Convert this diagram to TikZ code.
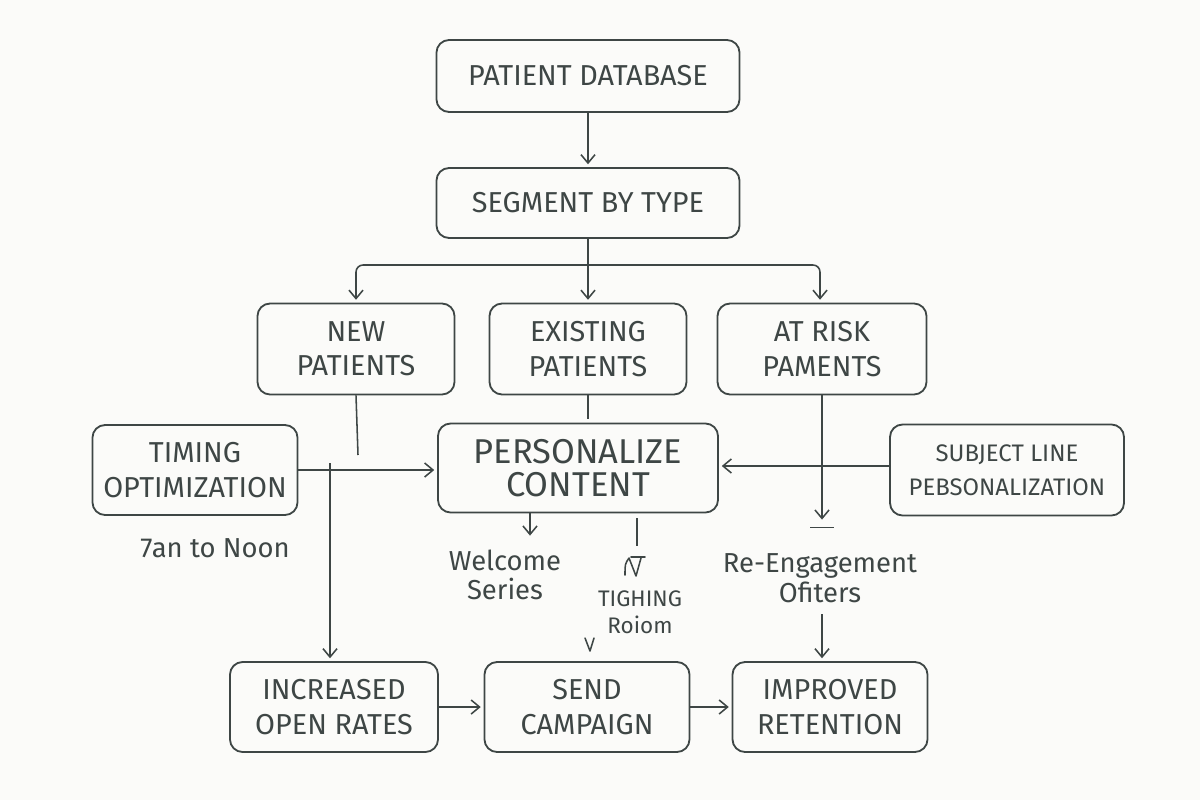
\documentclass[tikz,border=0pt]{standalone}
\usepackage{fontspec}
\setmainfont{Fira Sans}
\usetikzlibrary{arrows.meta,calc}
\definecolor{ink}{HTML}{3E4645}
\definecolor{paper}{HTML}{FBFBF9}
\tikzset{
  box/.style 2 args={draw=ink, line width=1.3pt, rounded corners=9pt, align=center,
    text=ink, font=\fontsize{20.5}{24.5}\selectfont, inner sep=0pt,
    minimum width={#1*0.7113pt}, minimum height={#2*0.7113pt}},
  lab/.style={text=ink, align=center, font=\fontsize{19.5}{21}\selectfont, inner sep=0pt},
  small/.style={text=ink, align=center, font=\fontsize{16}{19}\selectfont, inner sep=0pt},
  conn/.style={draw=ink, line width=1.1pt},
  arr/.style={conn, -{Straight Barb[length=6pt,width=10pt,line width=1.1pt]}, shorten >=2pt}
}
\begin{document}
\begin{tikzpicture}[x=0.025cm,y=-0.025cm]
\fill[paper] (0,0) rectangle (1200,800);
\useasboundingbox (0,0) rectangle (1200,800);
% boxes
\node[box={303}{72}] (pd) at (588,76) {PATIENT DATABASE};
\node[box={303}{70}] (sbt) at (588,203) {SEGMENT BY TYPE};
\node[box={197}{91}] (np) at (356,349) {NEW\\PATIENTS};
\node[box={197}{91}] (ep) at (588,349) {EXISTING\\PATIENTS};
\node[box={209}{91}] (ar) at (822,349) {AT RISK\\PAMENTS};
\node[box={205}{90}] (to) at (195,470) {TIMING\\OPTIMIZATION};
\node[box={280}{89}, font=\fontsize{24.5}{23.5}\selectfont] (pc) at (578,468) {PERSONALIZE\\CONTENT};
\node[box={234}{91}, font=\fontsize{17}{24}\selectfont] (sl) at (1007,470) {SUBJECT LINE\\PEBSONALIZATION};
\node[box={208}{90}] (ior) at (334,707) {INCREASED\\OPEN RATES};
\node[box={205}{90}] (sc) at (587,707) {SEND\\CAMPAIGN};
\node[box={195}{90}] (ir) at (830,707) {IMPROVED\\RETENTION};
% labels
\node[lab] (ws) at (505,575) {Welcome\\Series};
\node[small] (tr) at (640,612) {TIGHING\\Roiom};
\node[lab] (reo) at (820,578) {Re-Engagement\\Ofiters};
\node[lab] (tn) at (215,548) {7an to Noon};
% coordinates
\coordinate (br) at (588,265);
\coordinate (npend) at (358,455);
\coordinate (vtop) at (330,463);
\coordinate (reoa) at (822,614);
\coordinate (gl) at (634,566);
\coordinate (vv) at (590,645);
% connectors
\draw[arr] (pd) -- (sbt);
\draw[conn] (sbt.south) -- (br);
\draw[arr, rounded corners=5pt] (br) -| (np.north);
\draw[arr, rounded corners=5pt] (br) -| ($(ar.north)+(-2,0)$);
\draw[arr] (br) -- (ep.north);
\draw[conn] (np.south) -- (npend);
\draw[conn] (ep.south) -- ($(pc.north)+(10,-4)$);
\draw[arr] (to.east) -- (to.east -| pc.west);
\draw[arr] (vtop) -- (vtop |- ior.north);
\draw[arr] ($(sl.west)+(0,-4)$) -- ($(sl.west -| pc.east)+(0,-4)$);
\draw[arr] (ar.south) -- ($(ar.south)+(0,127)$);
\draw[conn] ($(ar.south)+(-12,132)$) -- ($(ar.south)+(12,132)$);
\draw[arr] ($(pc.south)+(-48,0)$) -- ($(pc.south)+(-48,25)$);
\draw[conn] ($(pc.south)+(59,5)$) -- ($(pc.south)+(59,33)$);
% hand-drawn glyph under the line
\draw[conn, line cap=round, line join=round] ($(gl)+(-9,9)$) .. controls ($(gl)+(-9,-2)$) .. ($(gl)+(-5,-8)$) -- ($(gl)+(2,10)$) -- ($(gl)+(7,-8)$);
\draw[conn, line cap=round] ($(gl)+(-3,-9)$) -- ($(gl)+(11,-9)$);
\draw[conn, line cap=round, line join=round] ($(vv)+(-5,-7)$) -- ($(vv)+(0,6)$) -- ($(vv)+(4,-7)$);
\draw[arr] (reoa) -- (reoa |- ir.north);
\draw[arr] (ior.east) -- (sc.west);
\draw[arr] (sc.east) -- (ir.west);
\end{tikzpicture}
\end{document}
